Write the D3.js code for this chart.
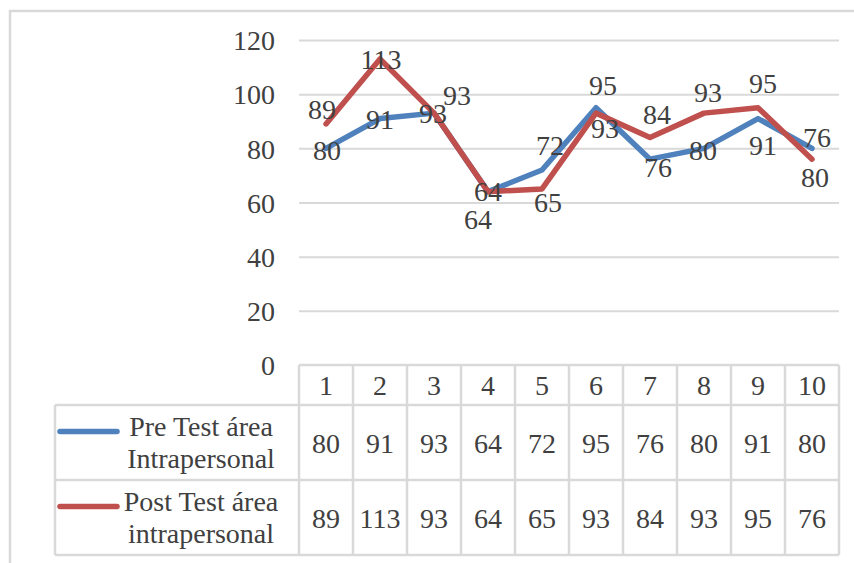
<!DOCTYPE html>
<html>
<head>
<meta charset="utf-8">
<script src="https://cdn.jsdelivr.net/npm/d3@7"></script>
<style>
  body { margin: 0; background: #fff; }
  text { font-family: "Liberation Serif", "Times New Roman", serif; fill: #404040; }
</style>
</head>
<body>
<svg id="canvas"></svg>
<script>
const categories = ["1", "2", "3", "4", "5", "6", "7", "8", "9", "10"];
const preValues = [80, 91, 93, 64, 72, 95, 76, 80, 91, 80];
const postValues = [89, 113, 93, 64, 65, 93, 84, 93, 95, 76];
const seriesNames = [["Pre Test área", "Intrapersonal"], ["Post Test área", "intrapersonal"]];
const yTicks = [0, 20, 40, 60, 80, 100, 120];

// label nudges (dx, dy of baseline from the point)
const preLabelNudge = [[1, 12], [0, 10], [-1, 10], [0, 9], [8, -15], [7, -13], [8, 18], [-1, 12], [5, 36], [3, 39]];
const postLabelNudge = [[-4, -5], [1, 10], [23, -8], [-10, 37], [6, 23], [9, 25], [7, -14], [4, -11], [5, -15], [5, -12]];

const width = 854;
const height = 563;
const fontSize = 28;
const gray = "#d9d9d9";
const colors = ["#4F81BD", "#C0504D"];

const plot = { left: 299, right: 839, top: 40, bottom: 365 };
const table = { legendLeft: 55, rows: [365, 405, 480, 555] };

const svg = d3.select("#canvas")
    .attr("width", width)
    .attr("height", height);

// outer frame (cut off at right and bottom like the source)
svg.append("rect")
    .attr("x", 10).attr("y", 11)
    .attr("width", width).attr("height", height)
    .attr("fill", "none")
    .attr("stroke", gray)
    .attr("stroke-width", 2.5);

const x = d3.scaleBand()
    .domain(categories)
    .range([plot.left, plot.right]);
const y = d3.scaleLinear()
    .domain([0, 120])
    .range([plot.bottom, plot.top]);

// gridlines
const grid = svg.append("g")
    .attr("transform", `translate(${plot.left}, 0)`)
    .call(d3.axisLeft(y).tickValues(yTicks.filter(d => d > 0)).tickSize(-(plot.right - plot.left)).tickFormat(""));
grid.select(".domain").remove();
grid.selectAll(".tick line").attr("stroke", gray).attr("stroke-width", 2);

// y axis labels
const axisY = svg.append("g")
    .attr("transform", `translate(${plot.left}, 0)`)
    .call(d3.axisLeft(y).tickValues(yTicks).tickSize(0).tickPadding(24));
axisY.select(".domain").remove();
axisY.selectAll(".tick text")
    .attr("font-size", fontSize)
    .attr("font-family", "Liberation Serif")
    .attr("fill", "#404040")
    .attr("dy", "0.35em");

// lines
const lineGen = d3.line()
    .x((d, i) => x(categories[i]) + x.bandwidth() / 2)
    .y(d => y(d));

[preValues, postValues].forEach((vals, s) => {
    svg.append("path")
        .attr("d", lineGen(vals))
        .attr("fill", "none")
        .attr("stroke", colors[s])
        .attr("stroke-width", 5.5)
        .attr("stroke-linejoin", "round")
        .attr("stroke-linecap", "round");
});

// data labels
[[preValues, preLabelNudge], [postValues, postLabelNudge]].forEach(([vals, nudge]) => {
    svg.append("g").selectAll("text")
        .data(vals)
        .join("text")
        .attr("x", (d, i) => x(categories[i]) + x.bandwidth() / 2 + nudge[i][0])
        .attr("y", (d, i) => y(d) + nudge[i][1])
        .attr("text-anchor", "middle")
        .attr("font-size", fontSize)
        .text(d => d);
});

// data table
const tableG = svg.append("g")
    .attr("stroke", gray)
    .attr("stroke-width", 2.5);
const [r0, r1, r2, r3] = table.rows;
tableG.append("line").attr("x1", plot.left).attr("x2", plot.right).attr("y1", r0).attr("y2", r0);
[r1, r2, r3].forEach(ry => {
    tableG.append("line").attr("x1", table.legendLeft).attr("x2", plot.right).attr("y1", ry).attr("y2", ry);
});
tableG.append("line").attr("x1", table.legendLeft).attr("x2", table.legendLeft).attr("y1", r1).attr("y2", r3);
categories.forEach(c => {
    tableG.append("line").attr("x1", x(c)).attr("x2", x(c)).attr("y1", r0).attr("y2", r3);
});
tableG.append("line").attr("x1", plot.right).attr("x2", plot.right).attr("y1", r0).attr("y2", r3);

const cx = c => x(c) + x.bandwidth() / 2;
svg.append("g").selectAll("text")
    .data(categories)
    .join("text")
    .attr("x", cx)
    .attr("y", (r0 + r1) / 2 + 10)
    .attr("text-anchor", "middle")
    .attr("font-size", fontSize)
    .text(d => d);

[preValues, postValues].forEach((vals, s) => {
    const rowTop = table.rows[s + 1];
    const rowBottom = table.rows[s + 2];
    const mid = (rowTop + rowBottom) / 2;
    svg.append("g").selectAll("text")
        .data(vals)
        .join("text")
        .attr("x", (d, i) => cx(categories[i]))
        .attr("y", mid + 10)
        .attr("text-anchor", "middle")
        .attr("font-size", fontSize)
        .text(d => d);

    // legend key + name
    svg.append("line")
        .attr("x1", 60).attr("x2", 117)
        .attr("y1", mid - 11).attr("y2", mid - 11)
        .attr("stroke", colors[s])
        .attr("stroke-width", 5.5)
        .attr("stroke-linecap", "round");
    svg.append("text")
        .attr("x", 201)
        .attr("y", mid - 7)
        .attr("text-anchor", "middle")
        .attr("font-size", fontSize)
        .text(seriesNames[s][0]);
    svg.append("text")
        .attr("x", 201)
        .attr("y", mid + 25)
        .attr("text-anchor", "middle")
        .attr("font-size", fontSize)
        .text(seriesNames[s][1]);
});
</script>
</body>
</html>
